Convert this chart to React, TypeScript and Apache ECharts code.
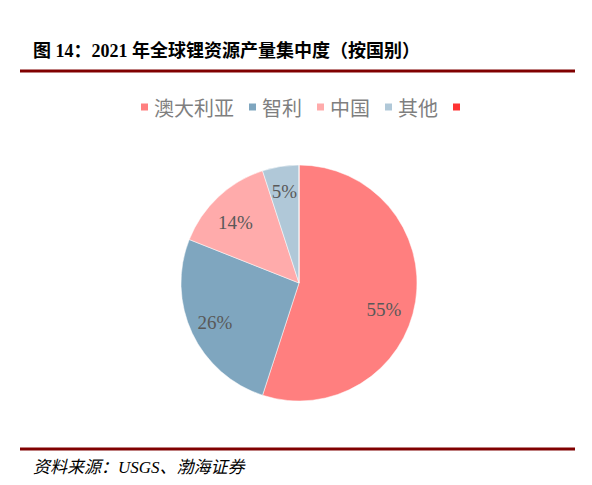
import { useEffect, useRef } from 'react';
import * as echarts from 'echarts';

const countries = ['澳大利亚', '智利', '中国', '其他', ' '];
const shares = [55, 26, 14, 5, 0];
const colors = ['#FF7F7F', '#7FA6BF', '#FFABAB', '#B0C8D8', '#FF3333'];

const titleText = '图 14：2021 年全球锂资源产量集中度（按国别）';
const sourceText = '资料来源：USGS、渤海证券';

// small nudges so the labels sit where Excel put them
const labelOffsets = [[-7, 12], [0, 0], [0, 7], [0, 0], [0, 0]];

function App() {
  const chartRef = useRef<HTMLDivElement>(null);

  useEffect(() => {
    document.body.style.margin = '0';
    if (!chartRef.current) return;
    const chart = echarts.init(chartRef.current, null, { renderer: 'svg' });

    const pieData = countries.map((name, i) => ({
      name,
      value: shares[i],
      itemStyle: { color: colors[i] },
    }));

    chart.setOption({
      animation: false,
      backgroundColor: '#ffffff',
      legend: {
        left: 134,
        top: 92,
        icon: 'rect',
        itemWidth: 9,
        itemHeight: 9,
        itemGap: 13,
        textStyle: {
          fontSize: 20,
          color: '#7F7F7F',
          fontFamily: '"Noto Sans CJK SC", sans-serif',
        },
        data: countries,
      },
      graphic: [
        {
          type: 'text',
          left: 33,
          top: 42,
          style: {
            text: titleText,
            fontSize: 18,
            fontWeight: 'bold',
            fill: '#000000',
            fontFamily: '"Liberation Serif", "Noto Sans CJK SC", serif',
          },
        },
        {
          type: 'line',
          shape: { x1: 20, y1: 71, x2: 575, y2: 71 },
          style: { stroke: '#800000', lineWidth: 3 },
        },
        {
          type: 'line',
          shape: { x1: 20, y1: 449, x2: 575, y2: 449 },
          style: { stroke: '#800000', lineWidth: 3 },
        },
        {
          type: 'text',
          left: 33,
          top: 459,
          style: {
            text: sourceText,
            fontSize: 17,
            fontStyle: 'italic',
            fill: '#000000',
            fontFamily: '"Liberation Serif", "Noto Sans CJK SC", serif',
          },
        },
      ],
      series: [
        {
          type: 'pie',
          center: [299, 283],
          radius: [0, 118],
          startAngle: 90,
          clockwise: true,
          label: { show: false },
          labelLine: { show: false },
          emphasis: { disabled: true },
          itemStyle: { borderColor: '#ffffff', borderWidth: 0.5 },
          data: pieData,
        },
        {
          type: 'pie',
          center: [299, 283],
          radius: [62, 118],
          startAngle: 90,
          clockwise: true,
          silent: true,
          legendHoverLink: false,
          itemStyle: { color: 'transparent', borderWidth: 0 },
          emphasis: { disabled: true },
          label: {
            show: true,
            position: 'inside',
            formatter: (p: { value: number }) => (p.value > 0 ? `${p.value}%` : ''),
            fontSize: 19,
            color: '#595959',
            fontFamily: '"Liberation Serif", serif',
          },
          labelLine: { show: false },
          data: countries.map((name, i) => ({
            name,
            value: shares[i],
            label: { offset: labelOffsets[i] },
          })),
        },
      ],
    });

    return () => chart.dispose();
  }, []);

  return <div ref={chartRef} style={{ width: '592px', height: '485px' }} />;
}

export default App;
